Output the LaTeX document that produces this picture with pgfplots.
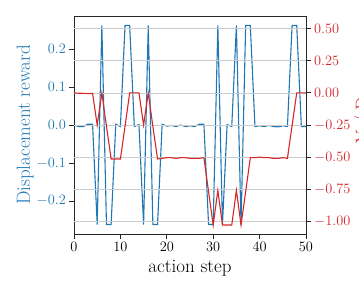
\documentclass[border=0pt]{standalone}
\usepackage{pgfplots}
\pgfplotsset{compat=1.18}
\usepackage{pgfplotstable}
\definecolor{tabblue}{HTML}{1F77B4}
\definecolor{tabred}{HTML}{D62728}
\definecolor{gridgray}{HTML}{CCCCCC}
\definecolor{spine}{HTML}{262626}

\pgfplotstableread{
x b r
0 0.000 0.000
1 -0.004 -0.002
2 -0.004 -0.003
3 0.002 -0.005
4 0.002 -0.003
5 -0.262 -0.25
6 0.262 0.00
7 -0.262 -0.26
8 -0.262 -0.515
9 0.002 -0.515
10 -0.004 -0.515
11 0.262 -0.26
12 0.262 0.00
13 -0.004 0.00
14 0.001 0.00
15 -0.262 -0.25
16 0.262 0.00
17 -0.262 -0.26
18 -0.262 -0.515
19 0.002 -0.51
20 -0.003 -0.505
21 -0.001 -0.505
22 -0.004 -0.51
23 0.000 -0.505
24 -0.004 -0.505
25 -0.002 -0.51
26 -0.004 -0.51
27 0.002 -0.51
28 0.002 -0.505
29 -0.262 -0.77
30 -0.262 -1.03
31 0.262 -0.76
32 -0.262 -1.03
33 0.001 -1.03
34 -0.004 -1.03
35 0.262 -0.76
36 -0.262 -1.03
37 0.262 -0.77
38 0.262 -0.505
39 -0.004 -0.505
40 -0.002 -0.50
41 -0.004 -0.505
42 -0.001 -0.505
43 -0.004 -0.51
44 -0.005 -0.51
45 -0.002 -0.505
46 -0.004 -0.51
47 0.262 -0.255
48 0.262 0.00
49 -0.004 0.00
50 -0.004 0.00
}\data

\begin{document}
\begin{tikzpicture}
\pgfplotsset{
  common/.style={
    at={(0,0)}, anchor=south west,
    scale only axis, width=232bp, height=218bp,
    xmin=0, xmax=50,
    tick align=outside,
    major tick length=4.7bp,
    every tick/.style={spine, line width=0.9bp},
    axis line style={spine, line width=0.9bp},
    tick label style={font=\fontsize{13.3bp}{16bp}\selectfont},
    label style={font=\fontsize{19bp}{22bp}\selectfont},
  }
}
\begin{axis}[
  common,
  ymin=-0.287, ymax=0.287,
  xtick={0,10,20,30,40,50},
  ytick={-0.2,-0.1,0,0.1,0.2},
  xtick pos=left, ytick pos=left,
  yticklabel style={text=tabblue, /pgf/number format/fixed, /pgf/number format/fixed zerofill, /pgf/number format/precision=1},
  xlabel={action step},
  ylabel={Displacement reward},
  ylabel style={text=tabblue, at={(axis description cs:-0.211,0.5)}, anchor=center},
  xlabel style={at={(axis description cs:0.5,-0.159)}, anchor=center},
]
\addplot[tabblue, line width=1.1bp, mark=none] table[x=x, y=b] {\data};
\end{axis}
\begin{axis}[
  common,
  ymin=-1.1, ymax=0.6,
  axis x line=none,
  axis y line*=right,
  ytick={-1,-0.75,-0.5,-0.25,0,0.25,0.5},
  ymajorgrids,
  major grid style={gridgray, line width=0.8bp},
  yticklabel style={text=tabred, /pgf/number format/fixed, /pgf/number format/fixed zerofill, /pgf/number format/precision=2},
  ylabel={Y / D},
  ylabel style={text=tabred, at={(axis description cs:1.194,0.523)}, anchor=north, rotate=0},
]
\addplot[tabred, line width=1.1bp, mark=none] table[x=x, y=r] {\data};
\end{axis}
\pgfresetboundingbox
\useasboundingbox (-74bp,-59bp) rectangle (285bp,234bp);
\end{tikzpicture}
\end{document}
